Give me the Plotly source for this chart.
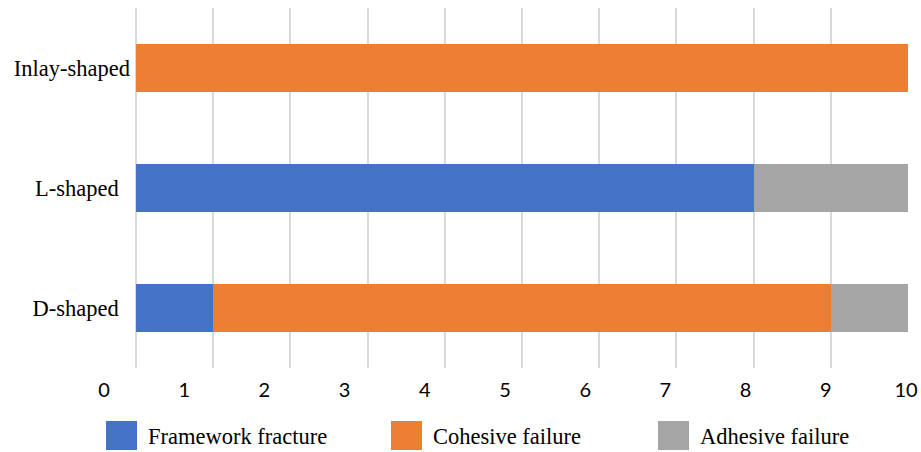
import plotly.graph_objects as go

# Failure modes per design (counts out of 10)
designs = ["D-shaped", "L-shaped", "Inlay-shaped"]
framework_fracture = [1, 8, 0]
cohesive_failure = [8, 0, 10]
adhesive_failure = [1, 2, 0]

series_names = ["Framework fracture", "Cohesive failure", "Adhesive failure"]
series_colors = ["#4472C4", "#ED7D31", "#A5A5A5"]
x_ticks = list(range(0, 11))

W, H = 921, 452
SERIF = "Liberation Serif, Times New Roman, serif"
SANS = "Lato, Open Sans, sans-serif"

fig = go.Figure()
for name, vals, col in zip(series_names,
                           [framework_fracture, cohesive_failure, adhesive_failure],
                           series_colors):
    fig.add_trace(go.Bar(
        y=designs, x=vals, name=name, orientation="h",
        xaxis="x", yaxis="y",
        marker=dict(color=col, line=dict(width=0)),
        width=0.4, showlegend=False, hoverinfo="x+y+name",
    ))

# helper trace so the label-only axis is rendered
fig.add_trace(go.Scatter(x=[x_ticks[0], x_ticks[-1]], y=[0, 0],
                         xaxis="x2", yaxis="y2", mode="markers",
                         marker=dict(opacity=0), showlegend=False, hoverinfo="skip"))

px_x = lambda p: p / W
px_y = lambda p: (H - p) / H

# category labels (right-aligned, the shorter ones sit a little further out)
ticktext = [designs[0] + "\u00a0\u00a0", designs[1] + "\u00a0\u00a0", designs[2]]

fig.update_layout(
    width=W, height=H,
    margin=dict(l=0, r=0, t=0, b=0, pad=0, autoexpand=False),
    paper_bgcolor="white", plot_bgcolor="rgba(0,0,0,0)",
    barmode="stack",
    xaxis=dict(domain=[px_x(136), px_x(908)], range=[0, 10], anchor="y",
               automargin=False,
               tickvals=x_ticks, showticklabels=False,
               showgrid=True, gridcolor="#D9D9D9", gridwidth=1.5,
               zeroline=True, zerolinecolor="#D9D9D9", zerolinewidth=1.5,
               showline=False, ticks=""),
    yaxis=dict(domain=[px_y(368), px_y(8)], range=[-0.5, 2.5], anchor="x",
               automargin=False,
               type="category", categoryorder="array", categoryarray=designs,
               tickvals=designs, ticktext=ticktext,
               showgrid=False, zeroline=False, showline=False, ticks="",
               tickfont=dict(family=SERIF, size=22.5, color="#000000"),
               ticklabelstandoff=5),
    xaxis2=dict(domain=[px_x(104), px_x(906)], range=[0, 10],
                automargin=False,
                tickvals=x_ticks, anchor="free", position=px_y(368),
                showgrid=False, zeroline=False, showline=False, ticks="",
                tickfont=dict(family=SANS, size=20, color="#000000"),
                ticklabelstandoff=8),
    yaxis2=dict(domain=[px_y(368), px_y(8)], range=[-1, 1], anchor="x2",
                automargin=False,
                visible=False, showgrid=False, zeroline=False),
)

# legend drawn with larger swatches
legend_x = [106, 391, 658]
for name, col, lx in zip(series_names, series_colors, legend_x):
    fig.add_shape(type="rect", xref="paper", yref="paper",
                  x0=px_x(lx), x1=px_x(lx + 31), y0=px_y(450), y1=px_y(421),
                  fillcolor=col, line=dict(width=0))
    fig.add_annotation(x=px_x(lx + 40), y=px_y(436), xref="paper", yref="paper",
                       text=name, showarrow=False, xanchor="left", yanchor="middle",
                       font=dict(family=SERIF, size=22.5, color="#000000"))

fig.write_html("out.html")
